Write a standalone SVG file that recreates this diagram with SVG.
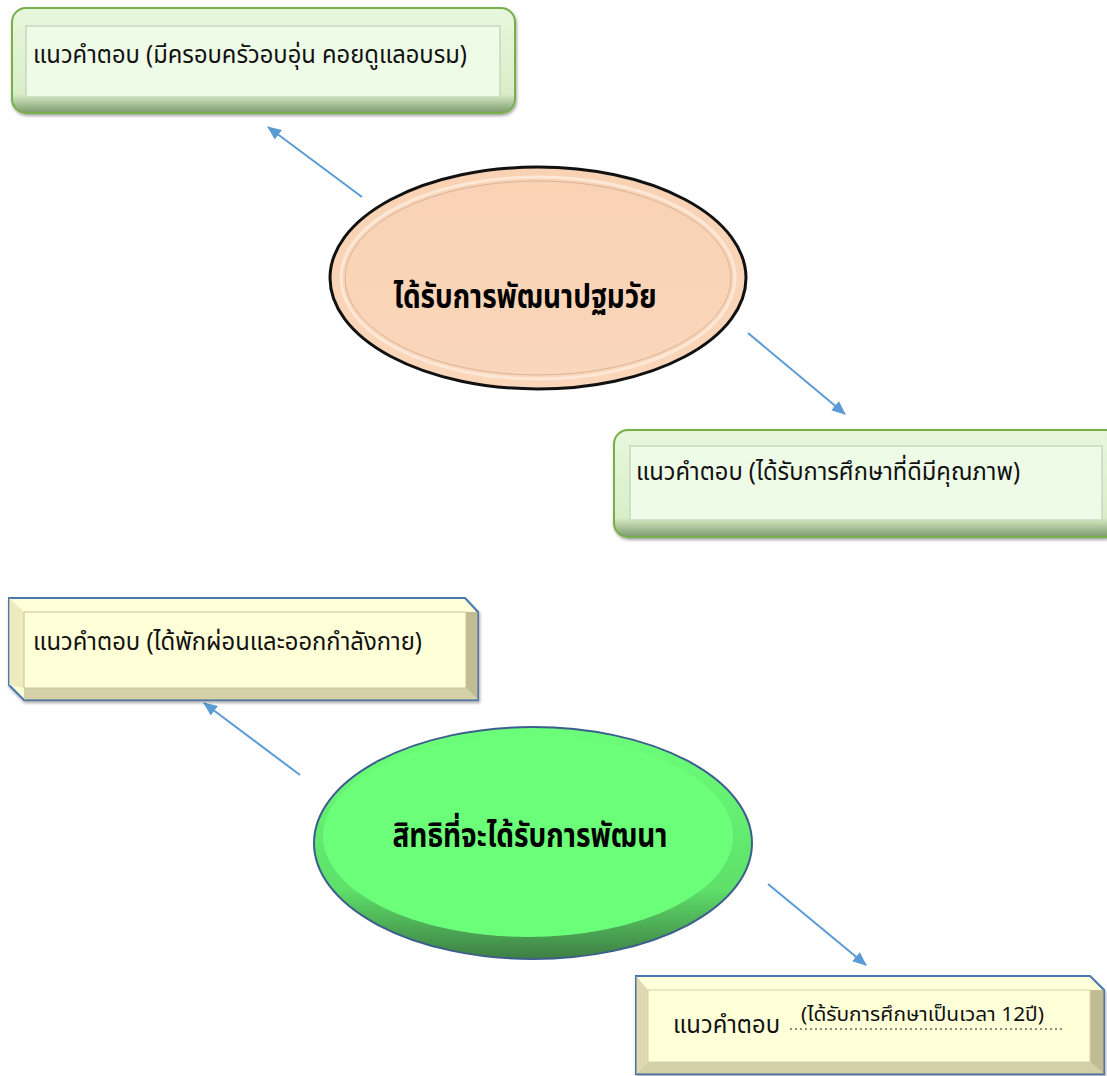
<svg xmlns="http://www.w3.org/2000/svg" width="1107" height="1076" viewBox="0 0 1107 1076">
<style>
.t{font-family:"Noto Sans Thai","Noto Sans","DejaVu Sans",sans-serif;font-size:25px;fill:#111}
.tb{font-family:"Noto Sans Thai","Noto Sans","DejaVu Sans",sans-serif;font-size:33px;font-weight:bold;fill:#000}
.conn{stroke:#5B9BD5;stroke-width:2;fill:none;marker-end:url(#ah)}
.gbox{fill:url(#gg);stroke:#77B04A;stroke-width:2}
.ginner{fill:#EEFBE6;stroke:#C8D8C0;stroke-width:1.5}
.ybox{fill:#FFFFD8;stroke:#4A78B0;stroke-width:2}
</style>
<defs>
<marker id="ah" markerWidth="14" markerHeight="12" refX="13" refY="6" orient="auto" markerUnits="userSpaceOnUse">
<path d="M0,0 L14,6 L0,12 z" fill="#5B9BD5"/>
</marker>
<linearGradient id="gg" x1="0" y1="0" x2="0" y2="1">
<stop offset="0" stop-color="#E8F7DC"/>
<stop offset="0.82" stop-color="#D8EEC8"/>
<stop offset="1" stop-color="#7E9A6E"/>
</linearGradient>
<linearGradient id="peach" x1="0" y1="0" x2="0" y2="1">
<stop offset="0" stop-color="#F9D2B4"/>
<stop offset="1" stop-color="#FAD6BA"/>
</linearGradient>
<linearGradient id="green" x1="0" y1="0" x2="0" y2="1">
<stop offset="0" stop-color="#6CFF7A"/>
<stop offset="0.7" stop-color="#5EE06A"/>
<stop offset="1" stop-color="#3E7E44"/>
</linearGradient>
<filter id="sh" x="-10%" y="-10%" width="120%" height="130%">
<feDropShadow dx="1" dy="2" stdDeviation="1.5" flood-color="#000" flood-opacity="0.35"/>
</filter>
</defs>

<g id="connectors">
<line class="conn" x1="362" y1="197" x2="268" y2="127"/>
<line class="conn" x1="748" y1="333" x2="845" y2="414"/>
<line class="conn" x1="300" y1="775" x2="204" y2="703"/>
<line class="conn" x1="768" y1="884" x2="866" y2="965"/>
</g>

<g id="box1">
<rect class="gbox" x="12" y="8" width="503" height="105" rx="14" filter="url(#sh)"/>
<rect class="ginner" x="26" y="26" width="474" height="71"/>
<text class="t" x="33" y="63" textLength="434" lengthAdjust="spacingAndGlyphs">แนวคำตอบ (มีครอบครัวอบอุ่น คอยดูแลอบรม)</text>
</g>

<g id="ellipse1">
<ellipse cx="538" cy="278" rx="208" ry="111" fill="url(#peach)" stroke="#111" stroke-width="3"/>
<ellipse cx="538" cy="278" rx="197" ry="101" fill="none" stroke="#FDE8D8" stroke-width="3"/>
<ellipse cx="538" cy="278" rx="193" ry="97" fill="none" stroke="#D8B49A" stroke-width="1"/>
<text class="tb" x="525" y="308" text-anchor="middle" textLength="263" lengthAdjust="spacingAndGlyphs">ได้รับการพัฒนาปฐมวัย</text>
</g>

<g id="box2">
<rect class="gbox" x="614" y="430" width="506" height="107" rx="14" filter="url(#sh)"/>
<rect class="ginner" x="630" y="446" width="472" height="74"/>
<text class="t" x="636" y="480" textLength="384" lengthAdjust="spacingAndGlyphs">แนวคำตอบ (ได้รับการศึกษาที่ดีมีคุณภาพ)</text>
</g>

<g id="box3">
<path class="ybox" d="M9,598 H465 L478,612 V700 H24 L9,685 Z" filter="url(#sh)"/>
<path d="M9,598 L24,612 V688 L9,685 Z" fill="#E8E2B8" opacity="0.7"/>
<path d="M466,612 L478,612 V700 L466,688 Z" fill="#A8A078" opacity="0.7"/>
<path d="M24,688 H466 L478,700 H24 Z" fill="#B8B088" opacity="0.6"/>
<path d="M466,612 V688 H24 V612 Z" fill="none" stroke="#C8C098" stroke-width="1"/>
<text class="t" x="33" y="650" textLength="389" lengthAdjust="spacingAndGlyphs">แนวคำตอบ (ได้พักผ่อนและออกกำลังกาย)</text>
</g>

<g id="ellipse2">
<ellipse cx="533" cy="843" rx="219" ry="116" fill="url(#green)" stroke="#3B5E8C" stroke-width="2"/>
<ellipse cx="528" cy="836" rx="205" ry="101" fill="#6BFF79"/>
<text class="tb" x="530" y="847" text-anchor="middle" textLength="275" lengthAdjust="spacingAndGlyphs">สิทธิที่จะได้รับการพัฒนา</text>
</g>

<g id="box4">
<path class="ybox" d="M636,976 H1090 L1104,990 V1074 H636 Z" filter="url(#sh)"/>
<path d="M1090,990 L1104,990 V1074 L1090,1062 Z" fill="#A8A078" opacity="0.7"/>
<path d="M648,1062 H1090 L1104,1074 H636 Z" fill="#B8B088" opacity="0.6"/>
<path d="M636,976 L648,990 V1062 L636,1074 Z" fill="#C8C098" opacity="0.6"/>
<path d="M648,990 H1090 V1062 H648 Z" fill="none" stroke="#D8D0A8" stroke-width="1"/>
<text class="t" x="673" y="1033" textLength="107" lengthAdjust="spacingAndGlyphs">แนวคำตอบ</text>
<line x1="790" y1="1029" x2="1064" y2="1029" stroke="#666" stroke-width="1.5" stroke-dasharray="2,3"/>
<text class="t" x="801" y="1021" style="font-size:20px" textLength="243" lengthAdjust="spacingAndGlyphs">(ได้รับการศึกษาเป็นเวลา 12ปี)</text>
</g>
</svg>
